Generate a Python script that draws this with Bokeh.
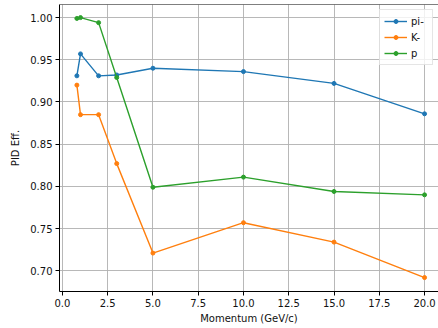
from bokeh.plotting import figure
from bokeh.models import FixedTicker, PrintfTickFormatter, Range1d, Span, Legend
from bokeh.embed import file_html
from bokeh.resources import INLINE

# Particle-ID efficiency vs momentum for three species
momentum = [0.8, 1.0, 2.0, 3.0, 5.0, 10.0, 15.0, 20.0]
eff_pi = [0.931, 0.957, 0.931, 0.932, 0.940, 0.936, 0.922, 0.886]
eff_k = [0.920, 0.885, 0.885, 0.827, 0.721, 0.757, 0.734, 0.692]
eff_p = [0.999, 1.000, 0.994, 0.929, 0.799, 0.811, 0.794, 0.790]

series = [
    ("pi-", eff_pi, "#1f77b4"),
    ("K-", eff_k, "#ff7f0e"),
    ("p", eff_p, "#2ca02c"),
]

x_ticks = [0.0, 2.5, 5.0, 7.5, 10.0, 12.5, 15.0, 17.5, 20.0]
y_ticks = [0.70, 0.75, 0.80, 0.85, 0.90, 0.95, 1.00]

FONT = "DejaVu Sans"
FS = "10px"
TXT = "#111111"

p = figure(
    width=438, height=328,
    x_range=Range1d(-0.16, 20.77),
    y_range=Range1d(0.6755, 1.0155),
    output_backend="svg", toolbar_location=None,
    min_border_left=59, min_border_right=0,
    min_border_top=4, min_border_bottom=37,
)
p.outline_line_color = None
p.background_fill_color = "white"
p.border_fill_color = "white"

# top spine
p.add_layout(Span(location=1.0155, dimension="width", line_color="black", line_width=1))

renderers = []
for name, ys, color in series:
    ln = p.line(momentum, ys, line_color=color, line_width=1.4)
    sc = p.scatter(momentum, ys, size=4, fill_color=color, line_color=color)
    renderers.append((name, [ln, sc]))

legend = Legend(items=renderers, location="top_right")
legend.margin = 5
legend.padding = 4
legend.spacing = 2
legend.glyph_width = 23
legend.glyph_height = 10
legend.label_height = 14
legend.label_width = 17
legend.label_standoff = 4
legend.label_text_font = FONT
legend.label_text_font_size = FS
legend.label_text_color = TXT
legend.border_line_color = "#cccccc"
legend.border_line_width = 1
legend.background_fill_alpha = 0.8
p.add_layout(legend)

for ax in (p.xaxis, p.yaxis):
    ax.axis_line_color = "black"
    ax.axis_line_width = 1
    ax.major_tick_line_color = "black"
    ax.major_tick_out = 4
    ax.major_tick_in = 0
    ax.minor_tick_line_color = None
    ax.major_label_text_font = FONT
    ax.major_label_text_font_size = FS
    ax.major_label_text_color = TXT
    ax.major_label_standoff = 3
    ax.axis_label_text_font = FONT
    ax.axis_label_text_font_size = FS
    ax.axis_label_text_font_style = "normal"
    ax.axis_label_text_color = TXT

p.xaxis.ticker = FixedTicker(ticks=x_ticks)
p.xaxis.formatter = PrintfTickFormatter(format="%.1f")
p.yaxis.ticker = FixedTicker(ticks=y_ticks)
p.yaxis.formatter = PrintfTickFormatter(format="%.2f")
p.xaxis.axis_label = "Momentum (GeV/c)"
p.yaxis.axis_label = "PID Eff."
p.xaxis.axis_label_standoff = 3
p.yaxis.axis_label_standoff = 6

for g in (p.xgrid, p.ygrid):
    g.grid_line_color = "#b0b0b0"
    g.grid_line_width = 0.9
p.xgrid.ticker = FixedTicker(ticks=x_ticks)
p.ygrid.ticker = FixedTicker(ticks=y_ticks)

open("out.html", "w").write(file_html(p, INLINE))
